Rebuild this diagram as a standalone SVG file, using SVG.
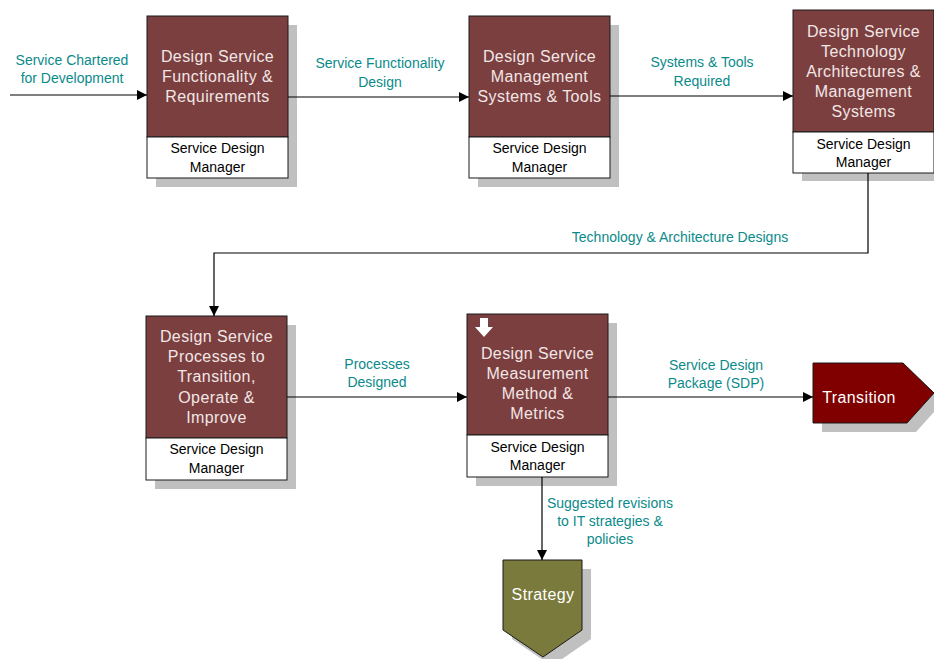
<svg xmlns="http://www.w3.org/2000/svg" width="934" height="659" viewBox="0 0 934 659">
  <style>
    .shadow { fill: #c0c0c0; }
    .head { fill: #7b3f3f; stroke: #1a1a1a; stroke-width: 1; }
    .foot { fill: #ffffff; stroke: #1a1a1a; stroke-width: 1; }
    .title { font-family: "Liberation Sans", Arial, sans-serif; font-size: 16px; fill: #f2e6e6; text-anchor: middle; letter-spacing: 0.4px; }
    .role { font-family: "Liberation Sans", Arial, sans-serif; font-size: 14px; fill: #000000; text-anchor: middle; }
    .lbl { font-family: "Liberation Sans", Arial, sans-serif; font-size: 14px; fill: #0a8a8a; text-anchor: middle; }
    .wire { fill: none; stroke: #000000; stroke-width: 1.2; }
  </style>
  <defs>
    <marker id="arrow" viewBox="0 0 10 10" refX="10" refY="5" markerWidth="10" markerHeight="10" markerUnits="userSpaceOnUse" orient="auto">
      <path d="M0,0 L10,5 L0,10 z" fill="#000000"/>
    </marker>
  </defs>
  <rect width="934" height="659" fill="#ffffff"/>

  <!-- Activity boxes -->
  <g id="node-functionality">
    <rect class="shadow" x="156" y="25" width="141" height="162"/>
    <rect class="head" x="147" y="16" width="141" height="121"/>
    <rect class="foot" x="147" y="137" width="141" height="41"/>
    <text class="title" x="217.5" y="62">Design Service</text>
    <text class="title" x="217.5" y="82">Functionality &amp;</text>
    <text class="title" x="217.5" y="102">Requirements</text>
    <text class="role" x="217.5" y="153">Service Design</text>
    <text class="role" x="217.5" y="172">Manager</text>
  </g>

  <g id="node-management">
    <rect class="shadow" x="478" y="25" width="141" height="162"/>
    <rect class="head" x="469" y="16" width="141" height="121"/>
    <rect class="foot" x="469" y="137" width="141" height="41"/>
    <text class="title" x="539.5" y="62">Design Service</text>
    <text class="title" x="539.5" y="82">Management</text>
    <text class="title" x="539.5" y="102">Systems &amp; Tools</text>
    <text class="role" x="539.5" y="153">Service Design</text>
    <text class="role" x="539.5" y="172">Manager</text>
  </g>

  <g id="node-technology">
    <rect class="shadow" x="802" y="19" width="141" height="162"/>
    <rect class="head" x="793" y="10" width="141" height="122"/>
    <rect class="foot" x="793" y="132" width="141" height="41"/>
    <text class="title" x="863.5" y="37">Design Service</text>
    <text class="title" x="863.5" y="57">Technology</text>
    <text class="title" x="863.5" y="77">Architectures &amp;</text>
    <text class="title" x="863.5" y="97">Management</text>
    <text class="title" x="863.5" y="117">Systems</text>
    <text class="role" x="863.5" y="149">Service Design</text>
    <text class="role" x="863.5" y="167">Manager</text>
  </g>

  <g id="node-processes">
    <rect class="shadow" x="155" y="325" width="141" height="164"/>
    <rect class="head" x="146" y="316" width="141" height="122"/>
    <rect class="foot" x="146" y="438" width="141" height="42"/>
    <text class="title" x="216.5" y="342">Design Service</text>
    <text class="title" x="216.5" y="362">Processes to</text>
    <text class="title" x="216.5" y="382">Transition,</text>
    <text class="title" x="216.5" y="403">Operate &amp;</text>
    <text class="title" x="216.5" y="423">Improve</text>
    <text class="role" x="216.5" y="454">Service Design</text>
    <text class="role" x="216.5" y="473">Manager</text>
  </g>

  <g id="node-measurement">
    <rect class="shadow" x="476" y="323" width="141" height="163"/>
    <rect class="head" x="467" y="314" width="141" height="121"/>
    <rect class="foot" x="467" y="435" width="141" height="42"/>
    <path d="M480,318 H488 V327 H493 L484,337 L475,327 H480 z" fill="#ffffff"/>
    <text class="title" x="537.5" y="359">Design Service</text>
    <text class="title" x="537.5" y="379">Measurement</text>
    <text class="title" x="537.5" y="399">Method &amp;</text>
    <text class="title" x="537.5" y="419">Metrics</text>
    <text class="role" x="537.5" y="452">Service Design</text>
    <text class="role" x="537.5" y="470">Manager</text>
  </g>

  <!-- Interface shapes -->
  <g id="node-transition">
    <path class="shadow" d="M822,372 H912 L943,402 L916,432 H822 z"/>
    <path d="M813,363 H903 L934,393 L907,423 H813 z" fill="#800000" stroke="#1a1a1a" stroke-width="1"/>
    <text class="title" x="859" y="403" fill="#ffffff" style="fill:#ffffff">Transition</text>
  </g>

  <g id="node-strategy">
    <path class="shadow" d="M512,569 H591 V639 L552,666 L512,639 z"/>
    <path d="M503,560 H582 V630 L543,657 L503,630 z" fill="#7a7a3c" stroke="#1a1a1a" stroke-width="1"/>
    <text class="title" x="543" y="600" style="fill:#ffffff">Strategy</text>
  </g>

  <!-- Connectors -->
  <g id="connectors">
    <path class="wire" d="M10,95 H147" marker-end="url(#arrow)"/>
    <path class="wire" d="M288,97 H469" marker-end="url(#arrow)"/>
    <path class="wire" d="M610,96 H793" marker-end="url(#arrow)"/>
    <path class="wire" d="M868,173 V253 H214 V316" marker-end="url(#arrow)"/>
    <path class="wire" d="M287,397 H467" marker-end="url(#arrow)"/>
    <path class="wire" d="M608,397 H813" marker-end="url(#arrow)"/>
    <path class="wire" d="M542,477 V560" marker-end="url(#arrow)"/>

    <text class="lbl" x="72" y="65">Service Chartered</text>
    <text class="lbl" x="72" y="83">for Development</text>
    <text class="lbl" x="380" y="68">Service Functionality</text>
    <text class="lbl" x="380" y="87">Design</text>
    <text class="lbl" x="702" y="67">Systems &amp; Tools</text>
    <text class="lbl" x="702" y="86">Required</text>
    <text class="lbl" x="680" y="242">Technology &amp; Architecture Designs</text>
    <text class="lbl" x="377" y="369">Processes</text>
    <text class="lbl" x="377" y="387">Designed</text>
    <text class="lbl" x="716" y="370">Service Design</text>
    <text class="lbl" x="716" y="388">Package (SDP)</text>
    <text class="lbl" x="610" y="508">Suggested revisions</text>
    <text class="lbl" x="610" y="526">to IT strategies &amp;</text>
    <text class="lbl" x="610" y="544">policies</text>
  </g>
</svg>
